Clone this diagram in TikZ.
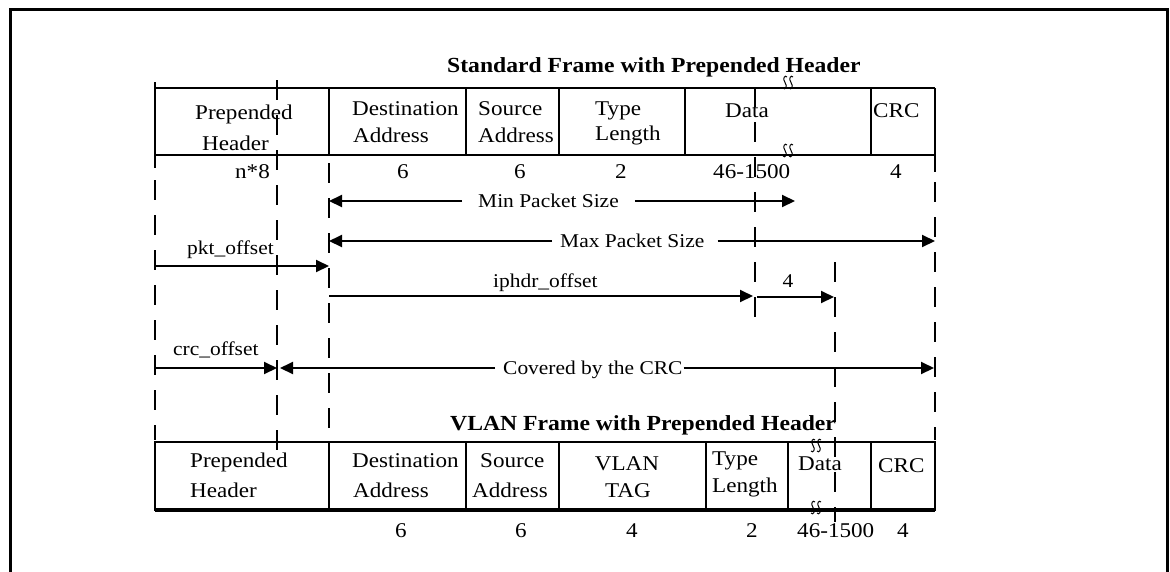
\documentclass[tikz,border=0pt]{standalone}
\usepackage{fontspec}
\setmainfont{Liberation Serif}[FakeStretch=1.1]
\usetikzlibrary{arrows.meta}
\tikzset{
  frm/.style={line width=2.5pt},
  dsh/.style={line width=2pt, dash pattern=on 20pt off 15pt},
  arr/.style={line width=2pt, -{Triangle[length=13pt,width=12pt]}},
  cell/.style={font=\fontsize{21}{24}\selectfont, inner sep=0pt, anchor=base west},
  num/.style={font=\fontsize{21}{24}\selectfont, inner sep=0pt, anchor=base},
  lbl/.style={font=\fontsize{19.5}{22}\selectfont, inner sep=0pt, anchor=base west},
  ttl/.style={font=\fontsize{21.5}{24}\selectfont\bfseries, inner sep=0pt, anchor=base west},
  brk/.pic={
    \foreach \dx in {-3,3}{
      \draw[line width=1pt] (\dx+2,-6) .. controls (\dx,-8.5) and (\dx-3,-4.5) .. (\dx,-0.5)
        .. controls (\dx+3,3.5) and (\dx,7.5) .. (\dx-2,5);
    }
  }
}
\begin{document}
\begin{tikzpicture}[x=1pt,y=-1pt]
\useasboundingbox (0,0) rectangle (1170,571);
% outer border
\draw[line width=3pt] (10.5,580) -- (10.5,9.5) -- (1167,9.5) -- (1167,580);

% titles
\node[ttl] (t1) at (447,72) {Standard Frame with Prepended Header};
\node[ttl] (t2) at (450,430) {VLAN Frame with Prepended Header};

% ---------- top frame ----------
\draw[frm] (155,88) -- (935,88);
\draw[frm] (155,155) -- (935,155);
\draw[frm] (155,82) -- (155,168);
\draw[frm] (935,88) -- (935,172);
\foreach \x in {329,466,559,685,871} \draw[frm] (\x,88) -- (\x,155);

\node[cell] (a1) at (195,119) {Prepended};
\node[cell] (a2) at (202,150) {Header};
\node[cell] (b1) at (352,115) {Destination};
\node[cell] (b2) at (353,142) {Address};
\node[cell] (c1) at (478,115) {Source};
\node[cell] (c2) at (478,142) {Address};
\node[cell] (d1) at (595,115) {Type};
\node[cell] (d2) at (595,140) {Length};
\node[cell] (e1) at (725,117) {Data};
\node[cell] (f1) at (873,117) {CRC};

\node[num, anchor=base east] (n1) at (270,178) {n*8};
\node[num] (n2) at (403,178) {6};
\node[num] (n3) at (520,178) {6};
\node[num] (n4) at (621,178) {2};
\node[num, anchor=base west] (n5) at (713,178) {46-1500};
\node[num] (n6) at (896,178) {4};

\pic at (788,83) {brk};
\pic at (788,151) {brk};

% ---------- dashed guide lines ----------
\draw[dsh] (155,180) -- (155,440);
\draw[dsh] (277,80) -- (277,465);
\draw[dsh] (329,163) -- (329,432);
\draw[dsh] (755,87) -- (755,318);
\draw[dsh] (835,262) -- (835,522);
\draw[dsh] (935,182) -- (935,440);

% ---------- arrows ----------
\coordinate (minL) at (329,201);
\coordinate (minR) at (795,201);
\node[lbl] (minT) at (478,207) {Min Packet Size};
\draw[arr, shorten <=16pt] (minT.west |- minL) -- (minL);
\draw[arr, shorten <=16pt] (minT.east |- minR) -- (minR);

\coordinate (maxL) at (329,241);
\coordinate (maxR) at (935,241);
\node[lbl] (maxT) at (560,247) {Max Packet Size};
\draw[arr, shorten <=8pt] (maxT.west |- maxL) -- (maxL);
\draw[arr, shorten <=13pt] (maxT.east |- maxR) -- (maxR);

\node[lbl] (pktT) at (187,254) {pkt\_offset};
\coordinate (pktL) at (155,266);
\coordinate (pktR) at (329,266);
\draw[arr] (pktL) -- (pktR);

\node[lbl] (ipT) at (493,287) {iphdr\_offset};
\coordinate (ipL) at (329,296);
\coordinate (ipR) at (753,296);
\draw[arr] (ipL) -- (ipR);

\node[lbl, anchor=base] (fourT) at (788,287) {4};
\coordinate (fourL) at (757,297);
\coordinate (fourR) at (834,297);
\draw[arr] (fourL) -- (fourR);

\node[lbl] (crcT) at (173,355) {crc\_offset};
\coordinate (crcL) at (155,368);
\coordinate (crcR) at (277,368);
\draw[arr] (crcL) -- (crcR);

\coordinate (covL) at (280,368);
\coordinate (covR) at (934,368);
\node[lbl] (covT) at (503,374) {Covered by the CRC};
\draw[arr, shorten <=8pt] (covT.west |- covL) -- (covL);
\draw[arr, shorten <=1pt] (covT.east |- covR) -- (covR);

% ---------- lower frame ----------
\draw[frm] (155,442) rectangle (935,510);
\draw[line width=3.2pt] (155,510) -- (935,510);
\foreach \x in {329,466,559,706,788,871} \draw[frm] (\x,442) -- (\x,510);

\node[cell] (g1) at (190,467) {Prepended};
\node[cell] (g2) at (190,497) {Header};
\node[cell] (h1) at (352,467) {Destination};
\node[cell] (h2) at (353,497) {Address};
\node[cell] (i1) at (480,467) {Source};
\node[cell] (i2) at (472,497) {Address};
\node[num] (j1) at (627,470) {VLAN};
\node[num] (j2) at (628,497) {TAG};
\node[cell] (k1) at (712,465) {Type};
\node[cell] (k2) at (712,492) {Length};
\node[cell] (l1) at (798,470) {Data};
\node[cell] (m1) at (878,472) {CRC};

\node[num] (p1) at (401,537) {6};
\node[num] (p2) at (521,537) {6};
\node[num] (p3) at (632,537) {4};
\node[num] (p4) at (752,537) {2};
\node[num, anchor=base west] (p5) at (797,537) {46-1500};
\node[num] (p6) at (903,537) {4};

\pic at (816,446) {brk};
\pic at (816,508) {brk};
\end{tikzpicture}
\end{document}
